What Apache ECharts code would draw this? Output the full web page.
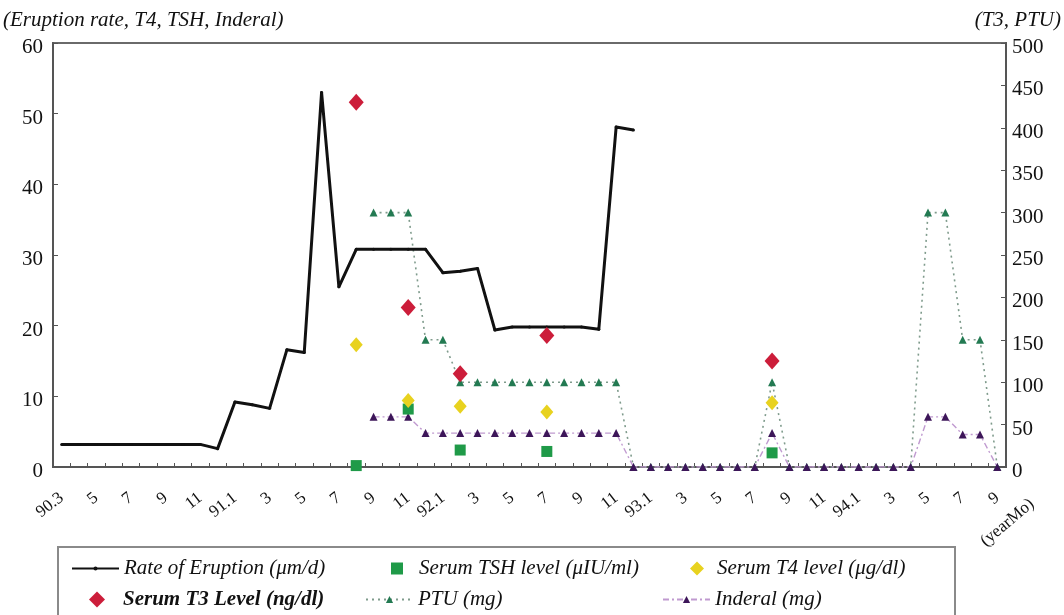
<!DOCTYPE html>
<html>
<head>
<meta charset="utf-8">
<script src="https://cdn.jsdelivr.net/npm/echarts@6/dist/echarts.min.js"></script>
<style>
html,body{margin:0;padding:0;background:#fff;}
#chart{width:1064px;height:615px;}
</style>
</head>
<body>
<div id="chart"></div>
<script>
// Month ids (year.month), 90.3 .. 94.9
var months = ['90.3','90.4','90.5','90.6','90.7','90.8','90.9','90.10','90.11','90.12',
  '91.1','91.2','91.3','91.4','91.5','91.6','91.7','91.8','91.9','91.10','91.11','91.12',
  '92.1','92.2','92.3','92.4','92.5','92.6','92.7','92.8','92.9','92.10','92.11','92.12',
  '93.1','93.2','93.3','93.4','93.5','93.6','93.7','93.8','93.9','93.10','93.11','93.12',
  '94.1','94.2','94.3','94.4','94.5','94.6','94.7','94.8','94.9'];
// Displayed tick labels (every other one is shown)
var tickLabels = ['90.3','4','5','6','7','8','9','10','11','12',
  '91.1','2','3','4','5','6','7','8','9','10','11','12',
  '92.1','2','3','4','5','6','7','8','9','10','11','12',
  '93.1','2','3','4','5','6','7','8','9','10','11','12',
  '94.1','2','3','4','5','6','7','8','9'];
var leftTicks = [0,10,20,30,40,50,60];
var rightTicks = [0,50,100,150,200,250,300,350,400,450,500];

// Rate of eruption (um/d), from 90.3 to 92.12
var eruption = [3.2,3.2,3.2,3.2,3.2,3.2,3.2,3.2,3.2,2.6,9.2,8.8,8.3,16.6,16.2,53.0,25.5,
  30.8,30.8,30.8,30.8,30.8,27.5,27.7,28.1,19.4,19.8,19.8,19.8,19.8,19.8,19.5,48.1,47.7];
// PTU (mg), right axis
var ptu = [null,null,null,null,null,null,null,null,null,null,null,null,null,null,null,null,null,null,
  300,300,300,150,150,100,100,100,100,100,100,100,100,100,100,
  0,0,0,0,0,0,0,0,100,0,0,0,0,0,0,0,0,300,300,150,150,0];
// Inderal (mg), left axis
var inderal = [null,null,null,null,null,null,null,null,null,null,null,null,null,null,null,null,null,null,
  7.1,7.1,7.1,4.8,4.8,4.8,4.8,4.8,4.8,4.8,4.8,4.8,4.8,4.8,4.8,
  0,0,0,0,0,0,0,0,4.8,0,0,0,0,0,0,0,0,7.1,7.1,4.6,4.6,0];
// Serum measurements
var labMonths = ['91.8','91.11','92.2','92.7','93.8'];
var tshValues = [0.2,8.2,2.4,2.2,2.0];
var t4Values = [17.3,9.4,8.6,7.8,9.1];
var t3Values = [430,188,110,155,125];

function pairs(vals){ return labMonths.map(function(m,k){ return [m, vals[k]]; }); }

var serif = 'Liberation Serif';
var chart = echarts.init(document.getElementById('chart'));

var names = ['Rate of Eruption (\u03bcm/d)','Serum TSH level (\u03bcIU/ml)','Serum T4 level (\u03bcg/dl)',
  'Serum T3 Level (ng/dl)','PTU (mg)','Inderal (mg)'];
// [left, top, itemWidth, itemHeight, text padding-left]
var legendLayout = [[66,553,47,5,0],[386,553,12,12,11],[685,553,14,14,8],
                    [84,584,16,16,13],[360,584,47,9,0],[657,584,47,9,0]];
var legends = names.map(function(n,k){
  var L = legendLayout[k];
  return {
    data:[n], left:L[0], top:L[1], itemWidth:L[2], itemHeight:L[3], itemGap:5,
    selectedMode:false,
    textStyle:{fontFamily:serif, fontStyle:'italic', fontSize:21, color:'#111',
      padding:[0,0,0,L[4]], fontWeight: k===3 ? 'bold' : 'normal'}
  };
});

var yLabel = {
  formatter:function(v){ return '{a|' + v + '}'; },
  rich:{a:{fontFamily:serif, fontSize:21, color:'#111', padding:[9,0,0,0]}}
};

var option = {
  animation:false,
  backgroundColor:'#fff',
  legend: legends,
  grid:{left:53, right:58, top:43, bottom:148, show:true, borderColor:'#6a6a6a', borderWidth:2},
  xAxis:{
    type:'category', data:months, boundaryGap:true,
    axisLine:{lineStyle:{color:'#555', width:2}},
    axisTick:{show:true, inside:true, interval:0, length:4, lineStyle:{color:'#555'}},
    axisLabel:{interval:1, rotate:38, margin:29, color:'#111', fontFamily:serif, fontSize:17,
      formatter:function(v,i){ return tickLabels[i]; }}
  },
  yAxis:[
    {type:'value', min:leftTicks[0], max:leftTicks[leftTicks.length-1], interval:10,
      axisLine:{show:true, lineStyle:{color:'#555', width:2}},
      axisTick:{show:true, inside:true, length:5, lineStyle:{color:'#555'}},
      splitLine:{show:false},
      axisLabel:Object.assign({margin:10}, yLabel)},
    {type:'value', min:rightTicks[0], max:rightTicks[rightTicks.length-1], interval:50,
      axisLine:{show:true, lineStyle:{color:'#555', width:2}},
      axisTick:{show:true, inside:true, length:5, lineStyle:{color:'#555'}},
      splitLine:{show:false},
      axisLabel:Object.assign({margin:6}, yLabel)}
  ],
  series:[
    {name:names[4], type:'line', yAxisIndex:1, data:ptu, symbol:'triangle', symbolSize:8,
      itemStyle:{color:'#237a52'}, lineStyle:{color:'#7f9b8c', width:1.6, type:[2,4]}, z:2},
    {name:names[5], type:'line', yAxisIndex:0, data:inderal, symbol:'triangle', symbolSize:8,
      itemStyle:{color:'#3d1659'}, lineStyle:{color:'#c09ad0', width:1.4, type:[6,3,2,3]}, z:3},
    {name:names[0], type:'line', yAxisIndex:0, data:eruption, symbol:'circle', symbolSize:3,
      itemStyle:{color:'#111'}, lineStyle:{color:'#111', width:3, join:'round'}, z:4},
    {name:names[1], type:'scatter', yAxisIndex:0, data:pairs(tshValues), symbol:'rect', symbolSize:11,
      itemStyle:{color:'#1f9a48', opacity:1}, z:5},
    {name:names[2], type:'scatter', yAxisIndex:0, data:pairs(t4Values), symbol:'diamond', symbolSize:[13,15],
      itemStyle:{color:'#e8d21f', opacity:1}, z:6},
    {name:names[3], type:'scatter', yAxisIndex:1, data:pairs(t3Values), symbol:'diamond', symbolSize:[15,17],
      itemStyle:{color:'#cc1d3a', opacity:1}, z:7}
  ],
  graphic:[
    {type:'text', left:3, top:10, style:{text:'(Eruption rate, T4, TSH, Inderal)', font:'italic 21px "Liberation Serif"', fill:'#111'}},
    {type:'text', right:3, top:10, style:{text:'(T3, PTU)', font:'italic 21px "Liberation Serif"', fill:'#111'}},
    {type:'text', x:1032, y:502, rotation:0.7, style:{text:'(yearMo)', font:'17px "Liberation Serif"', fill:'#111', align:'right', verticalAlign:'middle'}},
    {type:'rect', shape:{x:58, y:547, width:897, height:80}, style:{fill:null, stroke:'#8a8a8a', lineWidth:2}, silent:true}
  ]
};
chart.setOption(option);
</script>
</body>
</html>
